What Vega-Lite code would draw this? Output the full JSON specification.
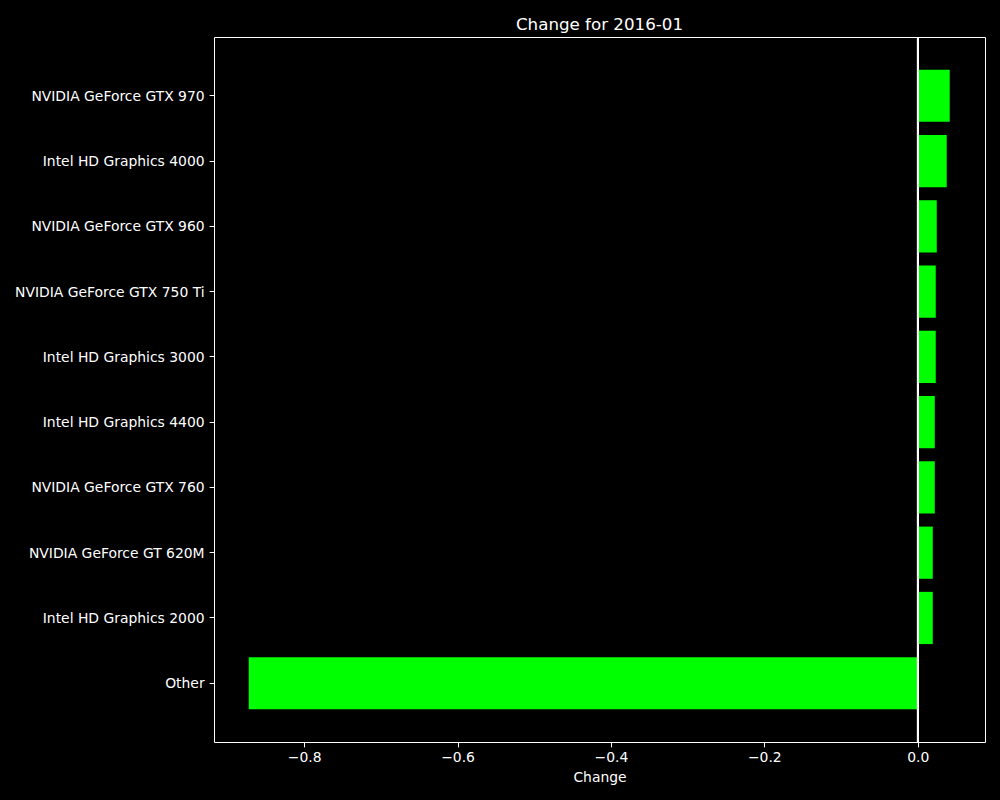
{
  "$schema": "https://vega.github.io/schema/vega-lite/v6.json",
  "width": 771,
  "height": 705,
  "autosize": "none",
  "padding": {"left": 214, "top": 37, "right": 15, "bottom": 58},
  "background": "black",
  "config": {
    "font": "DejaVu Sans",
    "view": {"stroke": "white", "strokeWidth": 1, "fill": "black"},
    "axis": {
      "labelColor": "white",
      "titleColor": "white",
      "tickColor": "white",
      "domainColor": "white",
      "labelFont": "DejaVu Sans",
      "titleFont": "DejaVu Sans",
      "labelFontSize": 13.9,
      "titleFontSize": 13.9,
      "titleFontWeight": "normal",
      "grid": false,
      "tickSize": 4.9,
      "labelPadding": 3.5
    },
    "title": {"color": "white", "font": "DejaVu Sans", "fontSize": 16.7, "fontWeight": "normal", "offset": 3}
  },
  "title": {"text": "Change for 2016-01", "anchor": "middle"},
  "data": {
    "values": [
      {"gpu": "NVIDIA GeForce GTX 970", "change": 0.0417},
      {"gpu": "Intel HD Graphics 4000", "change": 0.0378},
      {"gpu": "NVIDIA GeForce GTX 960", "change": 0.0248},
      {"gpu": "NVIDIA GeForce GTX 750 Ti", "change": 0.0235},
      {"gpu": "Intel HD Graphics 3000", "change": 0.0235},
      {"gpu": "Intel HD Graphics 4400", "change": 0.0222},
      {"gpu": "NVIDIA GeForce GTX 760", "change": 0.0222},
      {"gpu": "NVIDIA GeForce GT 620M", "change": 0.0196},
      {"gpu": "Intel HD Graphics 2000", "change": 0.0196},
      {"gpu": "Other", "change": -0.8722}
    ]
  },
  "layer": [
    {
      "mark": {"type": "bar", "color": "#00ff00"},
      "encoding": {
        "y": {
          "field": "gpu",
          "type": "nominal",
          "sort": null,
          "scale": {"paddingInner": 0.2, "paddingOuter": 0.5},
          "axis": {"title": null, "domain": false, "labelLimit": 300, "labelPadding": 5, "labelOffset": 1}
        },
        "x": {
          "field": "change",
          "type": "quantitative",
          "scale": {"domain": [-0.9175, 0.0877], "nice": false, "zero": false},
          "axis": {"title": "Change", "values": [-0.8, -0.6, -0.4, -0.2, 0.0], "format": ".1f", "domain": false, "titlePadding": 6}
        }
      }
    },
    {
      "mark": {"type": "rule", "color": "white", "strokeWidth": 1.5},
      "encoding": {"x": {"datum": 0}}
    }
  ]
}
